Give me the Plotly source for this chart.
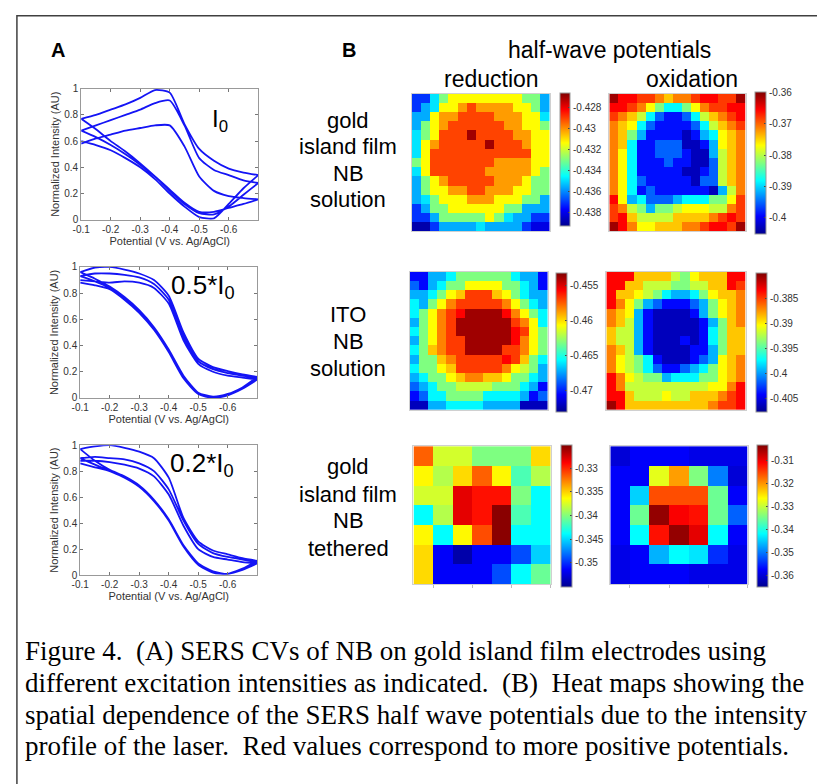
import plotly.graph_objects as go

W, H = 817, 784


def px(x):
    return x / W


def py(y):
    return 1 - y / H


SANS = "Liberation Sans, Arial, sans-serif"
SERIF = "Liberation Serif, Times New Roman, serif"

# ---------------- Panel A data: SERS CVs ----------------
potential_fwd = [-0.1, -0.15, -0.2, -0.25, -0.3, -0.35, -0.4, -0.45, -0.5, -0.55, -0.6, -0.65, -0.7]
potential_rev = [-0.7, -0.65, -0.6, -0.55, -0.5, -0.45, -0.4, -0.35, -0.3, -0.25, -0.2, -0.15, -0.1]

# I0
i0_fwd_1 = [0.58, 0.62, 0.65, 0.68, 0.70, 0.72, 0.72, 0.56, 0.33, 0.22, 0.18, 0.165, 0.155]
i0_rev_1 = [0.155, 0.12, 0.09, 0.06, 0.06, 0.13, 0.23, 0.33, 0.42, 0.50, 0.57, 0.63, 0.68]
i0_fwd_2 = [0.68, 0.72, 0.76, 0.80, 0.84, 0.89, 0.91, 0.72, 0.47, 0.38, 0.34, 0.30, 0.28]
i0_rev_2 = [0.28, 0.19, 0.10, 0.04, 0.05, 0.12, 0.22, 0.33, 0.43, 0.52, 0.60, 0.69, 0.77]
i0_fwd_3 = [0.77, 0.80, 0.84, 0.88, 0.93, 0.99, 0.97, 0.73, 0.54, 0.45, 0.39, 0.36, 0.34]
i0_rev_3 = [0.34, 0.24, 0.12, 0.01, 0.02, 0.10, 0.20, 0.31, 0.40, 0.47, 0.53, 0.57, 0.60]

# 0.5*I0
half_fwd_1 = [0.90, 0.89, 0.88, 0.89, 0.88, 0.84, 0.72, 0.44, 0.26, 0.20, 0.17, 0.155, 0.14]
half_rev_1 = [0.14, 0.07, 0.02, 0.00, 0.03, 0.16, 0.36, 0.53, 0.66, 0.76, 0.84, 0.89, 0.93]
half_fwd_2 = [0.93, 0.95, 0.95, 0.94, 0.92, 0.87, 0.75, 0.47, 0.28, 0.22, 0.19, 0.17, 0.15]
half_rev_2 = [0.15, 0.08, 0.03, 0.01, 0.04, 0.17, 0.37, 0.54, 0.67, 0.77, 0.85, 0.91, 0.96]
half_fwd_3 = [0.96, 0.995, 1.0, 0.98, 0.95, 0.90, 0.78, 0.50, 0.30, 0.235, 0.205, 0.18, 0.16]
half_rev_3 = [0.16, 0.08, 0.02, 0.00, 0.03, 0.15, 0.35, 0.52, 0.65, 0.75, 0.83, 0.86, 0.88]

# 0.2*I0
fifth_fwd_1 = [0.88, 0.88, 0.87, 0.85, 0.82, 0.76, 0.62, 0.38, 0.20, 0.14, 0.12, 0.10, 0.09]
fifth_rev_1 = [0.09, 0.04, 0.01, 0.02, 0.08, 0.22, 0.42, 0.57, 0.68, 0.75, 0.80, 0.85, 0.90]
fifth_fwd_2 = [0.90, 0.91, 0.90, 0.89, 0.86, 0.80, 0.66, 0.42, 0.24, 0.17, 0.14, 0.12, 0.10]
fifth_rev_2 = [0.10, 0.05, 0.01, 0.02, 0.09, 0.23, 0.43, 0.58, 0.69, 0.76, 0.81, 0.88, 0.97]
fifth_fwd_3 = [0.97, 0.99, 1.0, 0.98, 0.95, 0.90, 0.75, 0.44, 0.26, 0.19, 0.16, 0.13, 0.11]
fifth_rev_3 = [0.11, 0.05, 0.01, 0.03, 0.09, 0.22, 0.42, 0.57, 0.68, 0.75, 0.80, 0.83, 0.86]

cv_xticks = [-0.1, -0.2, -0.3, -0.4, -0.5, -0.6]
cv_xticktext = ["-0.1", "-0.2", "-0.3", "-0.4", "-0.5", "-0.6"]
cv_yticks = [0, 0.2, 0.4, 0.6, 0.8, 1]
cv_yticktext = ["0", "0.2", "0.4", "0.6", "0.8", "1"]

# ---------------- Panel B data: half-wave potential maps (V) ----------------
red_gold_solution = [
    [-0.4370, -0.4370, -0.4348, -0.4329, -0.4313, -0.4313, -0.4313, -0.4313, -0.4313, -0.4313, -0.4313, -0.4313, -0.4329, -0.4329, -0.4355],
    [-0.4370, -0.4355, -0.4348, -0.4313, -0.4313, -0.4301, -0.4290, -0.4301, -0.4301, -0.4301, -0.4301, -0.4313, -0.4313, -0.4329, -0.4355],
    [-0.4355, -0.4355, -0.4313, -0.4301, -0.4301, -0.4290, -0.4290, -0.4290, -0.4290, -0.4301, -0.4301, -0.4301, -0.4313, -0.4313, -0.4348],
    [-0.4355, -0.4329, -0.4313, -0.4301, -0.4290, -0.4290, -0.4290, -0.4290, -0.4290, -0.4290, -0.4301, -0.4301, -0.4313, -0.4313, -0.4329],
    [-0.4348, -0.4329, -0.4313, -0.4290, -0.4290, -0.4290, -0.4270, -0.4290, -0.4290, -0.4290, -0.4290, -0.4301, -0.4301, -0.4313, -0.4313],
    [-0.4348, -0.4313, -0.4301, -0.4290, -0.4290, -0.4290, -0.4290, -0.4290, -0.4270, -0.4290, -0.4290, -0.4290, -0.4301, -0.4313, -0.4313],
    [-0.4348, -0.4313, -0.4290, -0.4290, -0.4290, -0.4290, -0.4290, -0.4290, -0.4290, -0.4290, -0.4290, -0.4290, -0.4290, -0.4313, -0.4313],
    [-0.4329, -0.4313, -0.4290, -0.4290, -0.4290, -0.4290, -0.4290, -0.4290, -0.4290, -0.4301, -0.4301, -0.4301, -0.4301, -0.4313, -0.4313],
    [-0.4348, -0.4313, -0.4290, -0.4290, -0.4290, -0.4290, -0.4290, -0.4290, -0.4301, -0.4301, -0.4301, -0.4301, -0.4301, -0.4313, -0.4329],
    [-0.4355, -0.4329, -0.4313, -0.4301, -0.4290, -0.4290, -0.4290, -0.4290, -0.4290, -0.4301, -0.4301, -0.4301, -0.4313, -0.4329, -0.4329],
    [-0.4355, -0.4329, -0.4313, -0.4313, -0.4301, -0.4301, -0.4290, -0.4290, -0.4301, -0.4301, -0.4301, -0.4313, -0.4313, -0.4329, -0.4329],
    [-0.4355, -0.4348, -0.4329, -0.4313, -0.4313, -0.4313, -0.4301, -0.4301, -0.4301, -0.4313, -0.4313, -0.4313, -0.4329, -0.4329, -0.4355],
    [-0.4370, -0.4355, -0.4329, -0.4329, -0.4313, -0.4313, -0.4313, -0.4313, -0.4313, -0.4313, -0.4329, -0.4329, -0.4355, -0.4355, -0.4355],
    [-0.4370, -0.4370, -0.4355, -0.4329, -0.4329, -0.4329, -0.4329, -0.4329, -0.4313, -0.4329, -0.4348, -0.4355, -0.4355, -0.4370, -0.4370],
    [-0.4388, -0.4388, -0.4370, -0.4355, -0.4355, -0.4355, -0.4355, -0.4348, -0.4355, -0.4355, -0.4355, -0.4355, -0.4370, -0.4380, -0.4380],
]

ox_gold_solution = [
    [-0.3611, -0.3654, -0.3654, -0.3679, -0.3679, -0.3710, -0.3742, -0.3710, -0.3710, -0.3679, -0.3654, -0.3654, -0.3679, -0.3679, -0.3611],
    [-0.3654, -0.3654, -0.3679, -0.3710, -0.3767, -0.3824, -0.3882, -0.3882, -0.3824, -0.3767, -0.3710, -0.3679, -0.3679, -0.3654, -0.3654],
    [-0.3679, -0.3710, -0.3742, -0.3792, -0.3882, -0.3950, -0.3987, -0.3987, -0.3950, -0.3882, -0.3792, -0.3742, -0.3710, -0.3679, -0.3654],
    [-0.3710, -0.3742, -0.3767, -0.3882, -0.3950, -0.3987, -0.3987, -0.3987, -0.3987, -0.3950, -0.3882, -0.3792, -0.3742, -0.3710, -0.3679],
    [-0.3710, -0.3742, -0.3824, -0.3914, -0.3987, -0.3987, -0.3987, -0.3987, -0.4027, -0.3987, -0.3914, -0.3882, -0.3767, -0.3742, -0.3710],
    [-0.3710, -0.3742, -0.3882, -0.3987, -0.3987, -0.3950, -0.3950, -0.3950, -0.4027, -0.4027, -0.3987, -0.3914, -0.3767, -0.3742, -0.3710],
    [-0.3710, -0.3767, -0.3882, -0.3987, -0.3987, -0.3950, -0.3950, -0.3950, -0.3987, -0.4027, -0.4027, -0.3914, -0.3792, -0.3742, -0.3710],
    [-0.3710, -0.3767, -0.3882, -0.3987, -0.3987, -0.3987, -0.3950, -0.3987, -0.3987, -0.4027, -0.4027, -0.3950, -0.3792, -0.3742, -0.3710],
    [-0.3710, -0.3767, -0.3882, -0.3987, -0.3987, -0.3987, -0.3987, -0.3987, -0.4027, -0.4027, -0.3987, -0.3950, -0.3792, -0.3742, -0.3710],
    [-0.3710, -0.3767, -0.3882, -0.3950, -0.3987, -0.3987, -0.3987, -0.3987, -0.3987, -0.4027, -0.3950, -0.3950, -0.3792, -0.3742, -0.3710],
    [-0.3710, -0.3767, -0.3882, -0.3987, -0.3950, -0.3987, -0.3987, -0.3987, -0.3987, -0.3987, -0.3987, -0.4027, -0.3914, -0.3792, -0.3710],
    [-0.3654, -0.3767, -0.3914, -0.3882, -0.3950, -0.3950, -0.3950, -0.3914, -0.3882, -0.3882, -0.3882, -0.3824, -0.3824, -0.3767, -0.3679],
    [-0.3679, -0.3710, -0.3792, -0.3824, -0.3914, -0.3824, -0.3824, -0.3792, -0.3767, -0.3767, -0.3767, -0.3792, -0.3792, -0.3710, -0.3679],
    [-0.3679, -0.3654, -0.3742, -0.3792, -0.3792, -0.3792, -0.3792, -0.3742, -0.3742, -0.3742, -0.3742, -0.3710, -0.3679, -0.3654, -0.3679],
    [-0.3611, -0.3654, -0.3710, -0.3767, -0.3767, -0.3742, -0.3742, -0.3742, -0.3710, -0.3710, -0.3679, -0.3654, -0.3654, -0.3679, -0.3611],
]

red_ito_solution = [
    [-0.4704, -0.4704, -0.4671, -0.4671, -0.4657, -0.4631, -0.4631, -0.4631, -0.4631, -0.4631, -0.4631, -0.4657, -0.4671, -0.4671, -0.4704],
    [-0.4686, -0.4704, -0.4671, -0.4657, -0.4631, -0.4631, -0.4606, -0.4606, -0.4606, -0.4606, -0.4631, -0.4631, -0.4657, -0.4671, -0.4704],
    [-0.4671, -0.4671, -0.4657, -0.4631, -0.4606, -0.4595, -0.4568, -0.4568, -0.4568, -0.4595, -0.4606, -0.4631, -0.4657, -0.4671, -0.4671],
    [-0.4657, -0.4671, -0.4631, -0.4606, -0.4582, -0.4568, -0.4568, -0.4568, -0.4568, -0.4568, -0.4582, -0.4606, -0.4631, -0.4657, -0.4671],
    [-0.4657, -0.4631, -0.4606, -0.4582, -0.4568, -0.4557, -0.4538, -0.4538, -0.4538, -0.4538, -0.4557, -0.4582, -0.4606, -0.4631, -0.4657],
    [-0.4671, -0.4631, -0.4606, -0.4582, -0.4568, -0.4538, -0.4538, -0.4538, -0.4538, -0.4538, -0.4538, -0.4568, -0.4582, -0.4606, -0.4657],
    [-0.4657, -0.4631, -0.4606, -0.4582, -0.4568, -0.4538, -0.4538, -0.4538, -0.4538, -0.4538, -0.4538, -0.4557, -0.4568, -0.4606, -0.4631],
    [-0.4671, -0.4631, -0.4606, -0.4582, -0.4568, -0.4568, -0.4538, -0.4538, -0.4538, -0.4538, -0.4538, -0.4557, -0.4582, -0.4606, -0.4631],
    [-0.4657, -0.4631, -0.4595, -0.4582, -0.4568, -0.4568, -0.4538, -0.4538, -0.4538, -0.4538, -0.4568, -0.4568, -0.4582, -0.4606, -0.4631],
    [-0.4671, -0.4631, -0.4631, -0.4595, -0.4582, -0.4568, -0.4568, -0.4568, -0.4568, -0.4568, -0.4557, -0.4568, -0.4595, -0.4631, -0.4657],
    [-0.4657, -0.4631, -0.4631, -0.4606, -0.4595, -0.4568, -0.4568, -0.4568, -0.4568, -0.4568, -0.4582, -0.4606, -0.4617, -0.4631, -0.4671],
    [-0.4671, -0.4657, -0.4631, -0.4631, -0.4606, -0.4595, -0.4582, -0.4582, -0.4595, -0.4595, -0.4606, -0.4631, -0.4631, -0.4657, -0.4671],
    [-0.4686, -0.4671, -0.4657, -0.4631, -0.4631, -0.4617, -0.4617, -0.4617, -0.4617, -0.4631, -0.4631, -0.4631, -0.4657, -0.4671, -0.4704],
    [-0.4704, -0.4686, -0.4657, -0.4657, -0.4631, -0.4631, -0.4631, -0.4631, -0.4657, -0.4657, -0.4657, -0.4657, -0.4671, -0.4704, -0.4686],
    [-0.4720, -0.4720, -0.4671, -0.4671, -0.4657, -0.4657, -0.4657, -0.4657, -0.4671, -0.4671, -0.4671, -0.4671, -0.4720, -0.4720, -0.4720],
]

ox_ito_solution = [
    [-0.3835, -0.3835, -0.3835, -0.3888, -0.3888, -0.3888, -0.3888, -0.3919, -0.3938, -0.3903, -0.3888, -0.3888, -0.3888, -0.3835, -0.3835],
    [-0.3835, -0.3835, -0.3888, -0.3888, -0.3919, -0.3919, -0.3919, -0.3938, -0.3938, -0.3919, -0.3919, -0.3888, -0.3888, -0.3835, -0.3850],
    [-0.3835, -0.3888, -0.3888, -0.3903, -0.3919, -0.3938, -0.3974, -0.3993, -0.3993, -0.3974, -0.3938, -0.3903, -0.3888, -0.3888, -0.3869],
    [-0.3835, -0.3869, -0.3903, -0.3938, -0.3993, -0.4015, -0.4040, -0.4040, -0.4040, -0.4015, -0.3993, -0.3938, -0.3903, -0.3888, -0.3869],
    [-0.3869, -0.3888, -0.3903, -0.3993, -0.4040, -0.4062, -0.4062, -0.4062, -0.4062, -0.4040, -0.3993, -0.3938, -0.3903, -0.3888, -0.3869],
    [-0.3869, -0.3888, -0.3919, -0.3993, -0.4040, -0.4062, -0.4062, -0.4062, -0.4062, -0.4062, -0.4040, -0.3993, -0.3938, -0.3888, -0.3869],
    [-0.3888, -0.3919, -0.3919, -0.3993, -0.4040, -0.4062, -0.4062, -0.4062, -0.4062, -0.4062, -0.4040, -0.3974, -0.3938, -0.3888, -0.3888],
    [-0.3888, -0.3919, -0.3919, -0.3993, -0.4040, -0.4062, -0.4062, -0.4062, -0.4040, -0.4062, -0.4040, -0.3974, -0.3938, -0.3888, -0.3888],
    [-0.3869, -0.3888, -0.3919, -0.3993, -0.4040, -0.4062, -0.4062, -0.4062, -0.4062, -0.4040, -0.4040, -0.3993, -0.3938, -0.3888, -0.3888],
    [-0.3869, -0.3903, -0.3919, -0.3938, -0.3974, -0.4040, -0.4062, -0.4062, -0.4062, -0.4040, -0.4015, -0.3993, -0.3903, -0.3888, -0.3869],
    [-0.3869, -0.3903, -0.3919, -0.3938, -0.3974, -0.4015, -0.4040, -0.4040, -0.4015, -0.3993, -0.3974, -0.3938, -0.3903, -0.3888, -0.3869],
    [-0.3835, -0.3869, -0.3903, -0.3919, -0.3938, -0.3938, -0.3993, -0.3974, -0.3974, -0.3974, -0.3938, -0.3938, -0.3903, -0.3888, -0.3869],
    [-0.3835, -0.3869, -0.3919, -0.3919, -0.3919, -0.3919, -0.3919, -0.3919, -0.3919, -0.3919, -0.3919, -0.3903, -0.3903, -0.3869, -0.3835],
    [-0.3835, -0.3835, -0.3888, -0.3919, -0.3919, -0.3919, -0.3903, -0.3919, -0.3919, -0.3888, -0.3888, -0.3888, -0.3869, -0.3850, -0.3835],
    [-0.3808, -0.3835, -0.3888, -0.3888, -0.3888, -0.3888, -0.3888, -0.3888, -0.3888, -0.3888, -0.3888, -0.3869, -0.3850, -0.3850, -0.3835],
]

red_gold_tethered = [
    [-0.3317, -0.3377, -0.3377, -0.3402, -0.3402, -0.3402, -0.3353],
    [-0.3362, -0.3386, -0.3353, -0.3317, -0.3362, -0.3417, -0.3386],
    [-0.3377, -0.3377, -0.3281, -0.3293, -0.3293, -0.3402, -0.3439],
    [-0.3439, -0.3386, -0.3281, -0.3293, -0.3254, -0.3417, -0.3439],
    [-0.3362, -0.3439, -0.3362, -0.3311, -0.3254, -0.3439, -0.3439],
    [-0.3353, -0.3516, -0.3543, -0.3516, -0.3516, -0.3492, -0.3453],
    [-0.3353, -0.3516, -0.3516, -0.3516, -0.3492, -0.3439, -0.3408],
]

ox_gold_tethered = [
    [-0.3600, -0.3575, -0.3575, -0.3575, -0.3588, -0.3588, -0.3588],
    [-0.3575, -0.3575, -0.3281, -0.3207, -0.3342, -0.3496, -0.3600],
    [-0.3575, -0.3446, -0.3158, -0.3158, -0.3158, -0.3354, -0.3575],
    [-0.3575, -0.3354, -0.3047, -0.3109, -0.3121, -0.3354, -0.3514],
    [-0.3575, -0.3419, -0.3121, -0.3047, -0.3096, -0.3419, -0.3575],
    [-0.3588, -0.3575, -0.3465, -0.3419, -0.3434, -0.3545, -0.3588],
    [-0.3588, -0.3575, -0.3575, -0.3575, -0.3588, -0.3588, -0.3588],
]

# colour-bar ranges and ticks
range_red1 = [-0.4392, -0.4266]
range_ox1 = [-0.4050, -0.3597]
range_red2 = [-0.4730, -0.4532]
range_ox2 = [-0.4076, -0.3800]
range_red3 = [-0.3552, -0.3251]
range_ox3 = [-0.3649, -0.3035]

ticks_red1 = [-0.428, -0.43, -0.432, -0.434, -0.436, -0.438]
ticktext_red1 = ["-0.428", "-0.43", "-0.432", "-0.434", "-0.436", "-0.438"]
ticks_ox1 = [-0.36, -0.37, -0.38, -0.39, -0.4]
ticktext_ox1 = ["-0.36", "-0.37", "-0.38", "-0.39", "-0.4"]
ticks_red2 = [-0.455, -0.46, -0.465, -0.47]
ticktext_red2 = ["-0.455", "-0.46", "-0.465", "-0.47"]
ticks_ox2 = [-0.385, -0.39, -0.395, -0.4, -0.405]
ticktext_ox2 = ["-0.385", "-0.39", "-0.395", "-0.4", "-0.405"]
ticks_red3 = [-0.33, -0.335, -0.34, -0.345, -0.35]
ticktext_red3 = ["-0.33", "-0.335", "-0.34", "-0.345", "-0.35"]
ticks_ox3 = [-0.31, -0.32, -0.33, -0.34, -0.35, -0.36]
ticktext_ox3 = ["-0.31", "-0.32", "-0.33", "-0.34", "-0.35", "-0.36"]

row_labels = [
    ["gold", "island film", "NB", "solution"],
    ["ITO", "NB", "solution"],
    ["gold", "island film", "NB", "tethered"],
]

caption_lines = [
    "Figure 4.\u00a0 (A) SERS CVs of NB on gold island film electrodes using",
    "different excitation intensities as indicated.\u00a0 (B)\u00a0 Heat maps showing the",
    "spatial dependence of the SERS half wave potentials due to the intensity",
    "profile of the laser.\u00a0 Red values correspond to more positive potentials.",
]

JET = [
    [0.0, "rgb(0,0,143)"],
    [0.125, "rgb(0,0,255)"],
    [0.375, "rgb(0,255,255)"],
    [0.625, "rgb(255,255,0)"],
    [0.875, "rgb(255,0,0)"],
    [1.0, "rgb(128,0,0)"],
]

fig = go.Figure()

# ---------------- Panel A ----------------
cv_sets = [
    [(i0_fwd_1, i0_rev_1), (i0_fwd_2, i0_rev_2), (i0_fwd_3, i0_rev_3)],
    [(half_fwd_1, half_rev_1), (half_fwd_2, half_rev_2), (half_fwd_3, half_rev_3)],
    [(fifth_fwd_1, fifth_rev_1), (fifth_fwd_2, fifth_rev_2), (fifth_fwd_3, fifth_rev_3)],
]
cv_boxes = [(73, 252, 84, 217), (72, 251, 265, 398), (72, 251, 446, 578)]

for k, (cycles, box) in enumerate(zip(cv_sets, cv_boxes)):
    xs, ys = [], []
    for fwd, rev in cycles:
        xs += potential_fwd + potential_rev
        ys += fwd + rev
    sfx = "" if k == 0 else str(k + 1)
    fig.add_trace(go.Scatter(
        x=xs, y=ys, mode="lines",
        line=dict(color="rgb(20,20,245)", width=1.8, shape="spline", smoothing=0.6),
        xaxis="x" + sfx, yaxis="y" + sfx, showlegend=False, hoverinfo="skip",
    ))
    x0, x1, y0, y1 = box
    fig.update_layout(**{
        "xaxis" + sfx: dict(
            domain=[px(x0), px(x1)], range=[-0.1, -0.7], anchor="y" + sfx,
            tickvals=cv_xticks, ticktext=cv_xticktext, ticks="inside", ticklen=3,
            tickcolor="#777", showline=True, linecolor="#999", linewidth=1,
            mirror="allticks", showgrid=False, zeroline=False,
            tickfont=dict(family=SANS, size=10, color="#333"),
            title=dict(text="Potential (V vs. Ag/AgCl)", standoff=2,
                       font=dict(family=SANS, size=11, color="#333")),
        ),
        "yaxis" + sfx: dict(
            domain=[py(y1), py(y0)], range=[0, 1], anchor="x" + sfx,
            tickvals=cv_yticks, ticktext=cv_yticktext, ticks="inside", ticklen=3,
            tickcolor="#777", showline=True, linecolor="#999", linewidth=1,
            mirror="allticks", showgrid=False, zeroline=False,
            tickfont=dict(family=SANS, size=10, color="#333"),
            title=dict(text="Normalized Intensity (AU)", standoff=2,
                       font=dict(family=SANS, size=11, color="#333")),
        ),
    })

# ---------------- Panel B ----------------
maps = [
    (red_gold_solution, range_red1, ticks_red1, ticktext_red1, (407, 547, 89, 229), (557, 10, 88, 221)),
    (ox_gold_solution, range_ox1, ticks_ox1, ticktext_ox1, (607, 745, 89, 229), (754, 11, 87, 229)),
    (red_ito_solution, range_red2, ticks_red2, ticktext_red2, (405, 545, 270, 410), (553, 11, 271, 410)),
    (ox_ito_solution, range_ox2, ticks_ox2, ticktext_ox2, (604, 745, 270, 410), (755, 11, 271, 410)),
    (red_gold_tethered, range_red3, ticks_red3, ticktext_red3, (409, 548, 447, 587), (558, 11, 446, 588)),
    (ox_gold_tethered, range_ox3, ticks_ox3, ticktext_ox3, (608, 747, 447, 587), (756, 11, 446, 588)),
]

for i, (z, zr, tv, tt, box, cb) in enumerate(maps):
    n = len(z)
    ax = str(i + 4)
    fig.add_trace(go.Heatmap(
        z=z, zmin=zr[0], zmax=zr[1], colorscale=JET, xaxis="x" + ax, yaxis="y" + ax,
        hoverinfo="skip",
        colorbar=dict(
            x=px(cb[0]), xanchor="left", xref="paper", y=py(cb[2]), yanchor="top", yref="paper",
            len=cb[3] - cb[2], lenmode="pixels", thickness=cb[1], thicknessmode="pixels",
            xpad=0, ypad=0, outlinewidth=1, outlinecolor="#999", borderwidth=0,
            tickvals=tv, ticktext=tt, ticks="inside", ticklen=2, tickcolor="#444",
            tickfont=dict(family=SANS, size=10, color="#333"),
        ),
    ))
    x0, x1, y0, y1 = box
    bottom = i >= 4
    fig.update_layout(**{
        "xaxis" + ax: dict(
            domain=[px(x0), px(x1)], range=[-0.5, n - 0.5], anchor="y" + ax,
            showticklabels=False, showgrid=False, zeroline=False,
            showline=True, linecolor="#d0d0d0", mirror=True,
            ticks="outside" if bottom else "", ticklen=3, tickcolor="#bbb",
            tickvals=[0.5, 2.5, 4.5, 6.5] if bottom else [],
        ),
        "yaxis" + ax: dict(
            domain=[py(y1), py(y0)], range=[n - 0.5, -0.5], anchor="x" + ax,
            showticklabels=False, showgrid=False, zeroline=False,
            showline=True, linecolor="#d0d0d0", mirror=True, ticks="",
        ),
    })

# ---------------- Text ----------------
ann = []


def add_text(text, x, y, size, family=SANS, xanchor="center", bold=False, color="#000"):
    ann.append(dict(
        text=("<b>%s</b>" % text) if bold else text, x=px(x), y=py(y),
        xref="paper", yref="paper", xanchor=xanchor, yanchor="middle",
        showarrow=False, font=dict(family=family, size=size, color=color),
    ))


add_text("A", 50, 45, 20, bold=True)
add_text("B", 344, 45, 20, bold=True)
add_text("half-wave potentials", 607, 45, 23)
add_text("reduction", 488, 74, 23)
add_text("oxidation", 691, 74, 23)

row_line_y = [[116, 143, 170, 197], [313, 341, 368], [468, 496, 523, 551]]
for labels, ys in zip(row_labels, row_line_y):
    for t, yy in zip(labels, ys):
        add_text(t, 343, yy, 22)

add_text("I<sub>0</sub>", 203, 116, 24, xanchor="left")
add_text("0.5*I<sub>0</sub>", 162, 285, 26, xanchor="left")
add_text("0.2*I<sub>0</sub>", 161, 466, 26, xanchor="left")

caption_y = [655, 688, 720, 752]
for t, yy in zip(caption_lines, caption_y):
    add_text(t, 14, yy, 27, family=SERIF, xanchor="left")

fig.update_layout(
    width=W, height=H, margin=dict(l=0, r=0, t=0, b=0),
    paper_bgcolor="white", plot_bgcolor="white", showlegend=False,
    annotations=ann,
    shapes=[dict(type="rect", xref="paper", yref="paper",
                 x0=px(8), x1=1.05, y0=-0.05, y1=py(10),
                 line=dict(color="#404040", width=1.5))],
)

fig.write_html("out.html")
